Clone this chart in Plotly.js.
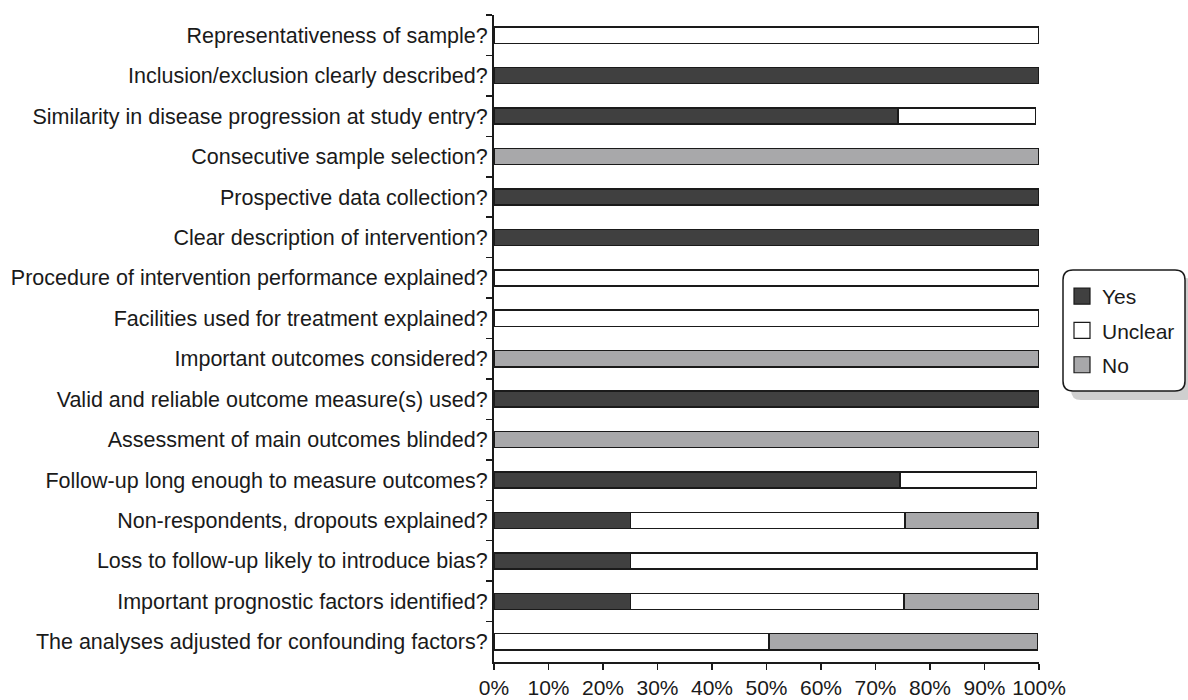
<!DOCTYPE html>
<html>
<head>
<meta charset="utf-8">
<script src="https://cdn.plot.ly/plotly-3.0.1.min.js"></script>
<style>
html,body{margin:0;padding:0;background:#fff;}
#chart{width:1188px;height:700px;}
</style>
</head>
<body>
<div id="chart"></div>
<script>
const categories = [
  "Representativeness of sample?",
  "Inclusion/exclusion clearly described?",
  "Similarity in disease progression at study entry?",
  "Consecutive sample selection?",
  "Prospective data collection?",
  "Clear description of intervention?",
  "Procedure of intervention performance explained?",
  "Facilities used for treatment explained?",
  "Important outcomes considered?",
  "Valid and reliable outcome measure(s) used?",
  "Assessment of main outcomes blinded?",
  "Follow-up long enough to measure outcomes?",
  "Non-respondents, dropouts explained?",
  "Loss to follow-up likely to introduce bias?",
  "Important prognostic factors identified?",
  "The analyses adjusted for confounding factors?"
];
const yesValues     = [0, 100, 74.1, 0, 100, 100, 0, 0, 0, 100, 0, 74.5, 25, 25, 25, 0];
const unclearValues = [100, 0, 25.3, 0, 0, 0, 100, 100, 0, 0, 0, 25, 50.4, 74.6, 50.2, 50.5];
const noValues      = [0, 0, 0, 100, 0, 0, 0, 0, 100, 0, 100, 0, 24.4, 0, 24.8, 49.2];
const seriesNames = ["Yes", "Unclear", "No"];
const tickValsX = [0, 10, 20, 30, 40, 50, 60, 70, 80, 90, 100];

const colors = ["#404040", "#ffffff", "#a8a8aa"];
const edge = "#1a1a1a";
const vals = [yesValues, unclearValues, noValues];
const traces = seriesNames.map((n, i) => ({
  type: "bar",
  orientation: "h",
  name: n,
  legendgroup: n,
  showlegend: false,
  y: categories,
  x: vals[i],
  width: 0.4,
  marker: {color: colors[i], line: {color: edge, width: 1.5}},
  hoverinfo: "x+y+name"
}));
// legend entries (square symbols like the reference)
seriesNames.forEach((n, i) => traces.push({
  type: "scatter",
  mode: "markers",
  name: n,
  legendgroup: n,
  showlegend: true,
  x: [null], y: [null],
  marker: {symbol: "square", size: 16, color: colors[i], line: {color: edge, width: 1.2}},
  hoverinfo: "skip"
}));

const X = px => (px - 494) / 545;
const Y = py => (662 - py) / 647;
function roundRect(x0, y0, x1, y1, r) {
  const p = (x, y) => X(x) + "," + Y(y);
  return "M" + p(x0 + r, y0) + " L" + p(x1 - r, y0) +
    " Q" + p(x1, y0) + " " + p(x1, y0 + r) +
    " L" + p(x1, y1 - r) + " Q" + p(x1, y1) + " " + p(x1 - r, y1) +
    " L" + p(x0 + r, y1) + " Q" + p(x0, y1) + " " + p(x0, y1 - r) +
    " L" + p(x0, y0 + r) + " Q" + p(x0, y0) + " " + p(x0 + r, y0) + " Z";
}

const layout = {
  width: 1188, height: 700,
  margin: {l: 494, r: 149, t: 15, b: 38, autoexpand: false},
  paper_bgcolor: "#fff", plot_bgcolor: "#fff",
  font: {family: "Liberation Sans, Arial, sans-serif", color: "#1a1a1a", size: 21.5},
  barmode: "stack",
  showlegend: true,
  legend: {
    x: X(1062), y: Y(276), xanchor: "left", yanchor: "top",
    bgcolor: "rgba(0,0,0,0)", borderwidth: 0,
    traceorder: "grouped",
    tracegroupgap: 4,
    font: {size: 21, color: "#1a1a1a"}
  },
  xaxis: {
    range: [0, 100],
    tickvals: tickValsX,
    ticktext: tickValsX.map(v => v + "%"),
    showgrid: false, zeroline: false,
    showline: true, linecolor: "#1a1a1a", linewidth: 2,
    ticks: "outside", ticklen: 6, tickwidth: 1.5, tickcolor: "#1a1a1a",
    tickfont: {size: 21},
    automargin: false,
    fixedrange: true
  },
  yaxis: {
    type: "category",
    autorange: "reversed",
    tickson: "boundaries",
    showgrid: false, zeroline: false,
    showline: true, linecolor: "#1a1a1a", linewidth: 2,
    ticks: "outside", ticklen: 6, tickwidth: 1.5, tickcolor: "#1a1a1a",
    tickfont: {size: 21.5},
    automargin: false,
    fixedrange: true
  },
  shapes: [
    {type: "path", xref: "paper", yref: "paper", path: roundRect(1071, 278, 1195, 400, 10),
     fillcolor: "#cfcfcf", line: {width: 0}, layer: "above"},
    {type: "path", xref: "paper", yref: "paper", path: roundRect(1063, 270, 1185, 391, 10),
     fillcolor: "#ffffff", line: {color: "#1a1a1a", width: 1.5}, layer: "above"}
  ]
};

Plotly.newPlot("chart", traces, layout, {displayModeBar: false, staticPlot: true});
</script>
</body>
</html>
